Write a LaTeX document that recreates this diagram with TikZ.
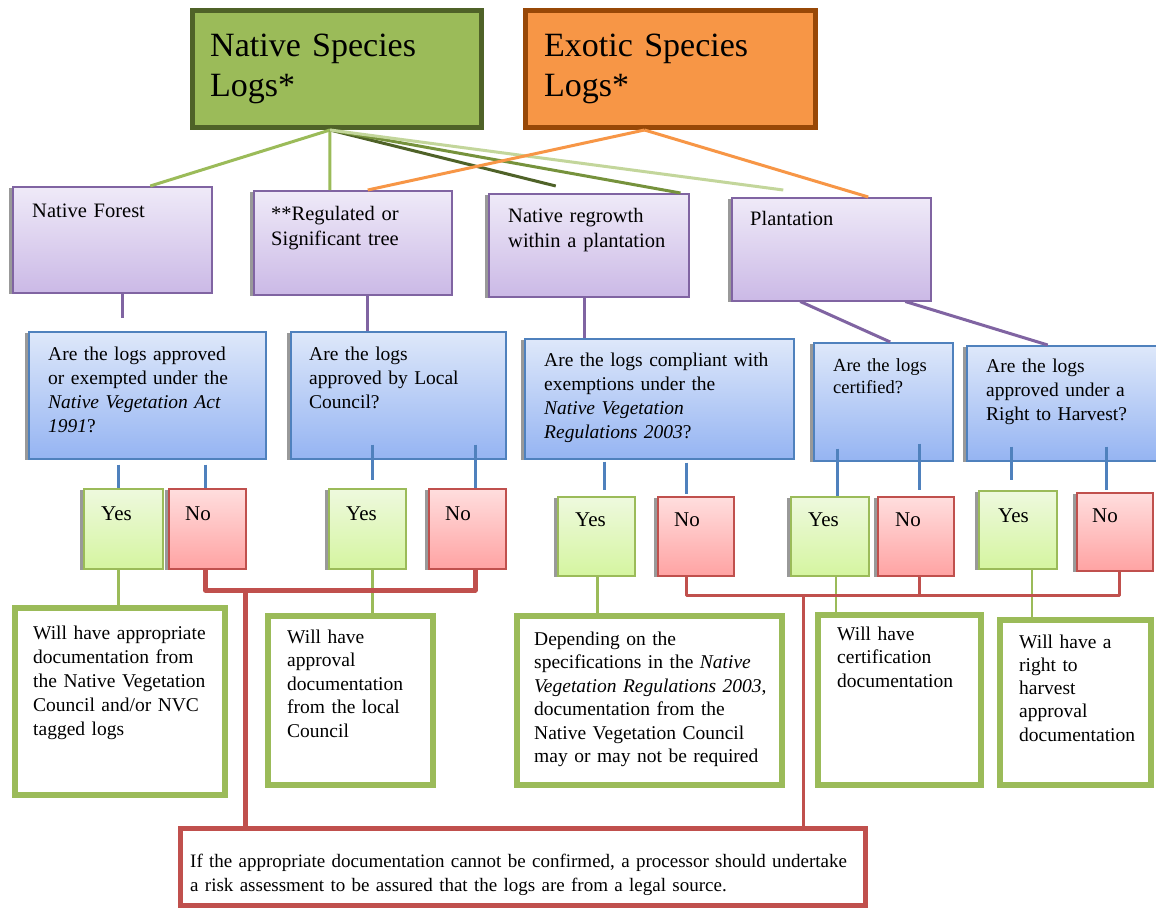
\documentclass[tikz,border=0pt]{standalone}
\usepackage{fontspec}
\setmainfont{Liberation Serif}
\usetikzlibrary{calc, shadows}
\definecolor{NatFill}{HTML}{9BBB59}
\definecolor{NatEdge}{HTML}{4F6228}
\definecolor{NatMid}{HTML}{76923C}
\definecolor{NatLight}{HTML}{C3D69B}
\definecolor{ExoFill}{HTML}{F79646}
\definecolor{ExoEdge}{HTML}{984807}
\definecolor{PurEdge}{HTML}{8064A2}
\definecolor{PurTop}{HTML}{EFEAF8}
\definecolor{PurBot}{HTML}{CBB9E6}
\definecolor{BluEdge}{HTML}{4F81BD}
\definecolor{BluTop}{HTML}{DEE8FA}
\definecolor{BluBot}{HTML}{95B4F2}
\definecolor{YesTop}{HTML}{EEF9DE}
\definecolor{YesBot}{HTML}{D5F5A0}
\definecolor{NoEdge}{HTML}{C0504D}
\definecolor{NoTop}{HTML}{FFDEDE}
\definecolor{NoBot}{HTML}{FFA3A3}

\begin{document}
\begin{tikzpicture}[x=1pt, y=-1pt,
	box/.style 2 args={anchor=north west, minimum width=#1pt, minimum height=#2pt, inner sep=0pt},
	txt/.style 2 args={anchor=base west, align=left, text width=700pt, inner sep=0pt, font=\fontsize{#1}{#2}\selectfont},
	species/.style={line width=5pt},
	shade/.style={drop shadow={shadow xshift=-3.5pt, shadow yshift=-1pt, fill=black!40, opacity=1}},
	kind/.style={shade, draw=PurEdge, line width=1.5pt, top color=PurTop, bottom color=PurBot},
	ask/.style={shade, draw=BluEdge, line width=1.5pt, top color=BluTop, bottom color=BluBot},
	yes/.style={shade, draw=NatFill, line width=1.5pt, top color=YesTop, bottom color=YesBot},
	no/.style={shade, draw=NoEdge, line width=1.5pt, top color=NoTop, bottom color=NoBot},
	answer/.style={draw=NatFill, line width=6pt, fill=white},
	natline/.style={draw=NatFill, line width=3pt},
	exoline/.style={draw=ExoFill, line width=3pt},
	purline/.style={draw=PurEdge, line width=3pt},
	qline/.style={draw=BluEdge, line width=3pt},
	yline/.style={draw=NatFill, line width=2.5pt},
	noline/.style={draw=NoEdge, line width=3pt, line join=round}]

	\path[use as bounding box, fill=white] (0,0) rectangle (1156,910);

	% species
	\node[species, draw=NatEdge, fill=NatFill, box={289}{117},
		label={[txt={34}{40}, xshift=20pt, yshift=-48pt]north west:{Native Species\\Logs*}}] (nat) at (190,8) {};
	\node[species, draw=ExoEdge, fill=ExoFill, box={290}{117},
		label={[txt={34}{40}, xshift=21pt, yshift=-48pt]north west:{Exotic Species\\Logs*}}] (exo) at (523,8) {};

	% kinds of log
	\node[kind, box={199}{106}, label={[txt={20.5}{25}, xshift=20pt, yshift=-31pt]north west:{Native Forest}}] (nf) at (12,186) {};
	\node[kind, box={198}{104}, label={[txt={20.5}{25}, xshift=18pt, yshift=-30pt]north west:{**Regulated or\\Significant tree}}] (reg) at (253,190) {};
	\node[kind, box={200}{103}, label={[txt={20.5}{25}, xshift=20pt, yshift=-29pt]north west:{Native regrowth\\within a plantation}}] (rg) at (488,193) {};
	\node[kind, box={199}{103}, label={[txt={20.5}{25}, xshift=19pt, yshift=-28pt]north west:{Plantation}}] (pl) at (731,197) {};

	% questions
	\node[ask, box={237}{127}, label={[txt={19.5}{24}, xshift=20pt, yshift=-29pt]north west:{Are the logs approved\\or exempted under the\\\textit{Native Vegetation Act}\\\textit{1991}?}}] (q1) at (28,331) {};
	\node[ask, box={215}{127}, label={[txt={19.5}{24}, xshift=19pt, yshift=-29pt]north west:{Are the logs\\approved by Local\\Council?}}] (q2) at (290,331) {};
	\node[ask, box={269}{120}, label={[txt={19.5}{24}, xshift=20pt, yshift=-28pt]north west:{Are the logs compliant with\\exemptions under the\\\textit{Native Vegetation}\\\textit{Regulations 2003}?}}] (q3) at (524,338) {};
	\node[ask, box={139}{118}, label={[txt={18.5}{22}, xshift=20pt, yshift=-29pt]north west:{Are the logs\\certified?}}] (q4) at (813,342) {};
	\node[ask, box={194}{115}, label={[txt={19.5}{24}, xshift=20pt, yshift=-27pt]north west:{Are the logs\\approved under a\\Right to Harvest?}}] (q5) at (966,345) {};

	% yes / no
	\node[yes, box={79}{80}, label={[txt={21}{24}, xshift=18pt, yshift=-32pt]north west:{Yes}}] (y1) at (83,488) {};
	\node[no, box={77}{80}, label={[txt={21}{24}, xshift=17pt, yshift=-32pt]north west:{No}}] (n1) at (168,488) {};
	\node[yes, box={77}{80}, label={[txt={21}{24}, xshift=18pt, yshift=-32pt]north west:{Yes}}] (y2) at (328,488) {};
	\node[no, box={77}{80}, label={[txt={21}{24}, xshift=17pt, yshift=-32pt]north west:{No}}] (n2) at (428,488) {};
	\node[yes, box={77}{79}, label={[txt={21}{24}, xshift=18pt, yshift=-30pt]north west:{Yes}}] (y3) at (557,496) {};
	\node[no, box={76}{79}, label={[txt={21}{24}, xshift=17pt, yshift=-30pt]north west:{No}}] (n3) at (657,496) {};
	\node[yes, box={78}{79}, label={[txt={21}{24}, xshift=18pt, yshift=-30pt]north west:{Yes}}] (y4) at (790,496) {};
	\node[no, box={76}{79}, label={[txt={21}{24}, xshift=18pt, yshift=-30pt]north west:{No}}] (n4) at (877,496) {};
	\node[yes, box={78}{78}, label={[txt={21}{24}, xshift=20pt, yshift=-32pt]north west:{Yes}}] (y5) at (978,490) {};
	\node[no, box={76}{78}, label={[txt={21}{24}, xshift=16pt, yshift=-30pt]north west:{No}}] (n5) at (1076,492) {};

	% answers
	\node[answer, box={210}{187}, label={[txt={19.5}{24}, xshift=21pt, yshift=-34pt]north west:{Will have appropriate\\documentation from\\the Native Vegetation\\Council and/or NVC\\tagged logs}}] (a1) at (12,605) {};
	\node[answer, box={165}{169}, label={[txt={19.5}{23.5}, xshift=22pt, yshift=-30pt]north west:{Will have\\approval\\documentation\\from the local\\Council}}] (a2) at (265,613) {};
	\node[answer, box={265}{169}, label={[txt={19.5}{23.5}, xshift=20pt, yshift=-32pt]north west:{Depending on the\\specifications in the \textit{Native}\\\textit{Vegetation Regulations 2003},\\documentation from the\\Native Vegetation Council\\may or may not be required}}] (a3) at (514,613) {};
	\node[answer, box={163}{170}, label={[txt={19.5}{23.5}, xshift=22pt, yshift=-28pt]north west:{Will have\\certification\\documentation}}] (a4) at (815,612) {};
	\node[answer, box={151}{165}, label={[txt={19.5}{23.3}, xshift=22pt, yshift=-31pt]north west:{Will have a\\right to\\harvest\\approval\\documentation}}] (a5) at (997,617) {};

	\node[draw=NoEdge, line width=5pt, fill=white, box={685}{77},
		label={[txt={19}{24}, xshift=12pt, yshift=-41pt]north west:{If the appropriate documentation cannot be confirmed, a processor should undertake\\a risk assessment to be assured that the logs are from a legal source.}}] (risk) at (178,826) {};

	% species to kinds
	\draw[natline] ([xshift=-7pt]nat.south) -- ([xshift=38pt]nf.north);
	\draw[natline] ([xshift=-7pt]nat.south) -- ([xshift=-23pt]reg.north);
	\draw[natline, draw=NatEdge] ([xshift=-7pt]nat.south) -- ([xshift=-33pt, yshift=7pt]rg.north);
	\draw[natline, draw=NatMid] ([xshift=-7pt]nat.south) -- ([xshift=-9pt]rg.north east);
	\draw[natline, draw=NatLight] ([xshift=-7pt]nat.south) -- ([xshift=-48pt, yshift=7pt]pl.north);
	\draw[exoline] ([xshift=-26pt]exo.south) -- ([xshift=15pt]reg.north);
	\draw[exoline] ([xshift=-26pt]exo.south) -- ([xshift=37pt]pl.north);

	% kinds to questions
	\coordinate (nfend) at (122,318);
	\draw[purline] (nf.south -| nfend) -- (nfend);
	\draw[purline] ([xshift=15pt]reg.south) -- ([xshift=15pt]reg.south |- q2.north);
	\draw[purline] ([xshift=-4pt]rg.south) -- ([xshift=-4pt]rg.south |- q3.north);
	\draw[purline] ([xshift=-31pt]pl.south) -- ([xshift=7pt]q4.north);
	\draw[purline] ([xshift=74pt]pl.south) -- ([xshift=-16pt]q5.north);

	% questions to yes / no
	\draw[qline] ($(q1.south -| y1.north)+(-5,5)$) -- ([xshift=-5pt]y1.north);
	\draw[qline] ($(q1.south -| n1.north)+(-2,5)$) -- ([xshift=-2pt]n1.north);
	\draw[qline] ($(q2.south -| y2.north)+(5,-15)$) -- ($(y2.north)+(5,-8)$);
	\draw[qline] ($(q2.south -| n2.north)+(8,-15)$) -- ([xshift=8pt]n2.north);
	\draw[qline] ($(q3.south -| y3.north)+(8,2)$) -- ($(y3.north)+(8,-6)$);
	\draw[qline] ($(q3.south -| n3.north)+(-9,3)$) -- ($(n3.north)+(-9,-2)$);
	\draw[qline] ($(q4.south -| y4.north)+(8,-13)$) -- ([xshift=8pt]y4.north);
	\draw[qline] ($(q4.south -| n4.north)+(4,-18)$) -- ($(n4.north)+(4,-6)$);
	\draw[qline] ($(q5.south -| y5.north)+(-6,-15)$) -- ($(y5.north)+(-6,-10)$);
	\draw[qline] ($(q5.south -| n5.north)+(-8,-15)$) -- ($(n5.north)+(-8,-2)$);

	% yes to answers
	\draw[yline] ([xshift=-5pt]y1.south) -- ([xshift=-5pt]y1.south |- a1.north);
	\draw[yline] ([xshift=5pt]y2.south) -- ([xshift=5pt]y2.south |- a2.north);
	\draw[yline] ([xshift=1pt]y3.south) -- ([xshift=1pt]y3.south |- a3.north);
	\draw[yline] ([xshift=6pt]y4.south) -- ([xshift=6pt]y4.south |- a4.north);
	\draw[yline] ([xshift=14pt]y5.south) -- ([xshift=14pt]y5.south |- a5.north);

	% no to risk
	\coordinate (lbus) at (245,590);
	\coordinate (rbus) at (803,595);
	\draw[noline, line width=5pt] ([xshift=-2pt]n1.south) |- (lbus) -| ([xshift=8pt]n2.south);
	\draw[noline, line width=5pt] (lbus) -- (lbus |- risk.north);
	\draw[noline] ([xshift=-9pt]n3.south) |- (rbus) -| ([xshift=5pt]n5.south);
	\draw[noline] ([xshift=4pt]n4.south) -- ([xshift=4pt]n4.south |- rbus);
	\draw[noline] (rbus) -- (rbus |- risk.north);
\end{tikzpicture}
\end{document}
